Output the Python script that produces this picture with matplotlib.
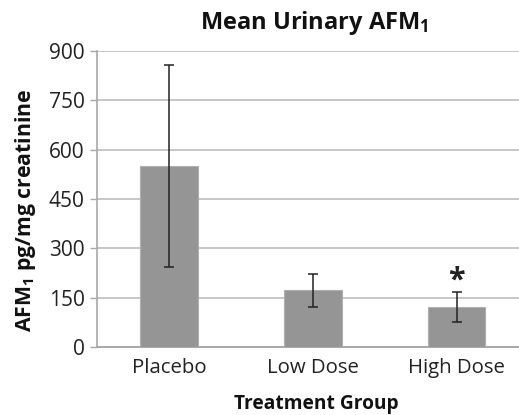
import matplotlib
matplotlib.use("Agg")
import matplotlib.pyplot as plt

categories = ["Placebo", "Low Dose", "High Dose"]
means = [550, 172, 122]
errors = [308, 50, 45]
yticks = [0, 150, 300, 450, 600, 750, 900]
title = r"Mean Urinary AFM$_{1}$"
ylabel = r"AFM$_{1}$ pg/mg creatinine"
xlabel = "Treatment Group"

plt.rcParams['font.family'] = ['Open Sans', 'DejaVu Sans']
plt.rcParams['mathtext.fontset'] = 'custom'
plt.rcParams['mathtext.rm'] = 'Open Sans:bold'
plt.rcParams['mathtext.it'] = 'Open Sans:bold'
plt.rcParams['mathtext.bf'] = 'Open Sans:bold'

fig = plt.figure(figsize=(5.19, 4.15), dpi=100)
ax = fig.add_axes([97/519, 1-347/415, (528.5-97)/519, (347-51)/415])

x = list(range(len(categories)))
ax.bar(x, means, width=0.40, color='#959595', edgecolor='#b0b0b0', linewidth=0.8, zorder=3)
ax.errorbar(x, means, yerr=errors, fmt='none', ecolor='#222222', elinewidth=1.1,
            capsize=3.8, capthick=1.1, zorder=4)
ax.text(2, 203, '*', ha='center', va='center', fontsize=22, fontweight='bold', color='#222222')

ax.set_xlim(-0.5, 2.5)
ax.set_ylim(0, 900)
ax.set_yticks(yticks)
ax.set_yticklabels([str(v) for v in yticks], fontsize=15, color='#222222')
ax.set_xticks(x)
ax.set_xticklabels(categories, fontsize=14.7, color='#222222')
ax.tick_params(axis='x', length=0, pad=8)
ax.tick_params(axis='y', length=5, width=1, color='#a8a8a8', pad=4)
ax.grid(axis='y', color='#c6c6c6', linewidth=1.4, zorder=0)
for s in ['top', 'right']:
    ax.spines[s].set_visible(False)
ax.spines['left'].set_color('#a8a8a8')
ax.spines['bottom'].set_color('#a8a8a8')
ax.spines['left'].set_linewidth(1.2)
ax.spines['bottom'].set_linewidth(1.4)

fig.text(314/519, 1-29/415, title, ha='center', va='baseline', fontsize=17, fontweight='bold', color='#111111')
fig.text(316/519, 1-409/415, xlabel, ha='center', va='baseline', fontsize=13.8, fontweight='bold', color='#111111')
fig.text(26/519, 1-210/415, ylabel, ha='center', va='center', rotation=90, fontsize=15.3, fontweight='bold', color='#111111')

fig.savefig('out.png', dpi=100)
